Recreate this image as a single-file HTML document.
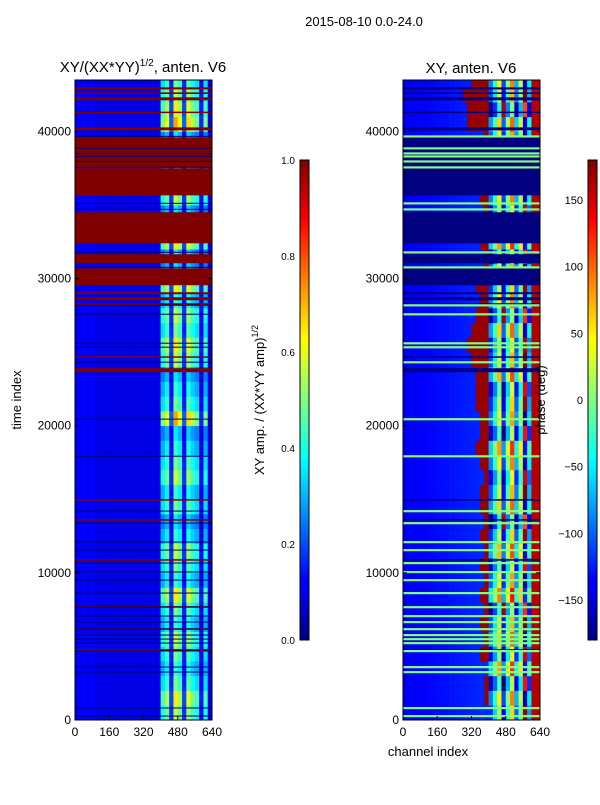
<!DOCTYPE html>
<html><head><meta charset="utf-8">
<style>
html,body{margin:0;padding:0;background:#fff;}
body{width:600px;height:800px;overflow:hidden;font-family:"Liberation Sans","DejaVu Sans",sans-serif;}
text{font-family:"Liberation Sans","DejaVu Sans",sans-serif;fill:#000;}
</style></head>
<body>
<svg id="fig" width="600" height="800" viewBox="0 0 600 800" xmlns="http://www.w3.org/2000/svg">
<defs>
<linearGradient id="jetV" x1="0" y1="1" x2="0" y2="0">
<stop offset="0" stop-color="#000080"/><stop offset="0.11" stop-color="#0000ff"/>
<stop offset="0.125" stop-color="#0000ff"/><stop offset="0.375" stop-color="#00ffff"/>
<stop offset="0.5" stop-color="#80ff80"/>
<stop offset="0.625" stop-color="#ffff00"/><stop offset="0.875" stop-color="#ff0000"/>
<stop offset="1" stop-color="#800000"/>
</linearGradient>
</defs>
<text x="364" y="26" font-size="13" text-anchor="middle">2015-08-10 0.0-24.0</text>
<text x="143" y="72" font-size="15" text-anchor="middle">XY/(XX*YY)<tspan font-size="10" dy="-6">1/2</tspan><tspan dy="6">, anten. V6</tspan></text>
<text x="471" y="73" font-size="15" text-anchor="middle">XY, anten. V6</text>
<g id="leftPlot"></g>
<g id="rightPlot"></g>
<g id="axes"></g>
<text transform="translate(21,400) rotate(-90)" font-size="13" text-anchor="middle">time index</text>
<text x="428" y="756" font-size="13" text-anchor="middle">channel index</text>
<rect x="300" y="160" width="9" height="480" fill="url(#jetV)" stroke="#000" stroke-width="1"/>
<rect x="588" y="160" width="9" height="480" fill="url(#jetV)" stroke="#000" stroke-width="1"/>
<text transform="translate(264,400) rotate(-90)" font-size="13" text-anchor="middle">XY amp. / (XX*YY amp)<tspan font-size="9" dy="-6">1/2</tspan></text>
<text transform="translate(545,400) rotate(-90)" font-size="13" text-anchor="middle">phase (deg)</text>
</svg>
<script>
// ---- data ----
const segGain = [0.8,0.9,0.7,0.6,0.7,0.8,0.6,0.7,0.9,0.6,0.7,0.8,0.6,0.5,0.7,0.6,0.8,0.7,0.6,0.5,1.0,0.7,0.6,0.5,0.8,0.9,0.7,0.8,0.6,0.9,0.5,0.5,0.9,0.5,0.5,0.8,0.5,0.5,0.5,0.5,1.0,0.9,0.8,0.7];
const ampProfile = [0.1,0.1,0.1,0.1,0.1,0.1,0.1,0.1,0.1,0.1,0.1,0.1,0.1,0.1,0.1,0.1,0.1,0.1,0.1,0.1,0.45,0.55,0.2,0.65,0.55,0.2,0.6,0.5,0.45,0.15,0.45,0.1];
const redStart = [400,380,380,400,360,380,360,380,360,380,360,380,360,380,360,360,380,360,340,360,360,340,340,340,320,300,320,340,360,340,380,380,360,380,380,360,400,380,380,380,300,300,280,320];
const phaseProfile = [-120,-60,20,-140,-30,60,-100,-10,170,-80,30,-150];
const segShift = [0,30,-40,60,-20,40,10,-50,70,20,-30,50,0,-60,40,10,-20,30,60,-40,20,0,-30,50,10,-10,40,-50,30,0,20,-40,60,10,-20,30,0,50,-30,20,40,-60,10,30];
const flagTop    = [43000,42660,42320,41350,40280,39600,37500,34510,31655,30700,29075,28735,28330,24720,23910,15010,13650,10930,7740,6240,4820];
const flagBottom = [42860,42550,42120,41300,40080,37565,35660,32400,31045,29550,28940,28530,28190,24660,23640,14945,13585,10870,7675,6180,4755];
const greenLines = [39670,38860,38515,38310,37970,37565,35120,34710,31790,30770,28190,27580,25610,25340,24320,20450,17930,14200,13385,12095,11550,10670,10060,9510,8630,7675,7065,6660,6180,5775,5500,5230,4690,3600,3260,815,270];
const xTicks = [0,160,320,480,640];
const yTicks = [0,10000,20000,30000,40000];
const ampTicks = [0.0,0.2,0.4,0.6,0.8,1.0];
const phaseTicks = [-150,-100,-50,0,50,100,150];
// ---- scales ----
const TMAX = 43500, PT = 80, PB = 720;
const yS = t => PB - t/TMAX*(PB-PT);
const xL = c => 75 + c/640*137;
const xR = c => 403 + c/640*137;
const ampY = v => 640 - v*480;
const phY = p => 640 - (p+180)/360*480;
function jet(v){v=Math.max(0,Math.min(1,v));
 const f=x=>Math.round(255*Math.max(0,Math.min(1,x)));
 return `rgb(${f(1.5-Math.abs(4*v-3))},${f(1.5-Math.abs(4*v-2))},${f(1.5-Math.abs(4*v-1))})`;}
const NS="http://www.w3.org/2000/svg";
function mk(tag,attrs,parent){const e=document.createElementNS(NS,tag);for(const k in attrs)e.setAttribute(k,attrs[k]);parent.appendChild(e);return e;}
const L=document.getElementById('leftPlot'), R=document.getElementById('rightPlot'), A=document.getElementById('axes');
// cells
segGain.forEach((g,r)=>{
  const t0=r*1000, t1=Math.min(TMAX,(r+1)*1000);
  const y0=yS(t1), h=yS(t0)-yS(t1);
  ampProfile.forEach((p,c)=>{
    const c0=c*20;
    const v = c0>=400 && c0<620 ? p*g*1.1 : p + (c0<100?0.02:0);
    const e=mk('rect',{x:xL(c0),y:y0,width:137/32+0.3,height:h+0.3,fill:jet(v)},L);
    
    
    let ph;
    if(c0<redStart[r]) ph=-140+(c0/400)*20;
    else if(c0<400) ph=172;
    else if(c0>=600) ph=160;
    else { ph = phaseProfile[Math.floor((c0-400)/20)%phaseProfile.length]+segShift[r]; if(ph>180)ph-=360; if(ph<-180)ph+=360; }
    const e2=mk('rect',{x:xR(c0),y:y0,width:137/32+0.3,height:h+0.3,fill:jet((ph+180)/360)},R);
    
    
  });
});
// flagged bands
flagTop.forEach((s,i)=>{
  const y0=yS(s), y1=yS(flagBottom[i]);
  const h=Math.max(1.5,y1-y0);
  const a=mk('rect',{x:75,y:y0,width:137,height:h,fill:'#800000'},L);
  
  
  const b=mk('rect',{x:403,y:y0,width:137,height:h,fill:'#000080'},R);
  
  
});
greenLines.forEach(t=>{
  const a=mk('rect',{x:75,y:yS(t)-0.5,width:137,height:1,fill:'#000070'},L);
  
  
  const b=mk('rect',{x:403,y:yS(t)-1,width:137,height:2.2,fill:'#80ff80'},R);
  
  
});
// frames & ticks
[[75,xL],[403,xR]].forEach(([x0,xf])=>{
  const f=mk('rect',{x:x0,y:PT,width:137,height:PB-PT,fill:'none',stroke:'#000','stroke-width':1},A);
  
  
  xTicks.forEach(c=>{
    mk('line',{x1:xf(c),x2:xf(c),y1:PB,y2:PB-4,stroke:'#000'},A);
    const t=mk('text',{x:xf(c),y:PB+16,'font-size':12,'text-anchor':'middle'},A);
    t.textContent=c;
    
    
  });
  yTicks.forEach(v=>{
    mk('line',{x1:x0,x2:x0+4,y1:yS(v),y2:yS(v),stroke:'#000'},A);
    mk('line',{x1:x0+137,x2:x0+133,y1:yS(v),y2:yS(v),stroke:'#000'},A);
    const t=mk('text',{x:x0-4,y:yS(v)+4,'font-size':12,'text-anchor':'end'},A);
    t.textContent=v;
    
    
  });
});
ampTicks.forEach(v=>{
  mk('line',{x1:300,x2:304,y1:ampY(v),y2:ampY(v),stroke:'#000'},A);
  const t=mk('text',{x:295,y:ampY(v)+4,'font-size':10,'text-anchor':'end'},A);
  t.textContent=v.toFixed(1);
  
  
});
phaseTicks.forEach(v=>{
  mk('line',{x1:588,x2:592,y1:phY(v),y2:phY(v),stroke:'#000'},A);
  const t=mk('text',{x:583,y:phY(v)+4,'font-size':11,'text-anchor':'end'},A);
  t.textContent=v<0?'\u2212'+(-v):v;
  
  
});
</script>
</body></html>
